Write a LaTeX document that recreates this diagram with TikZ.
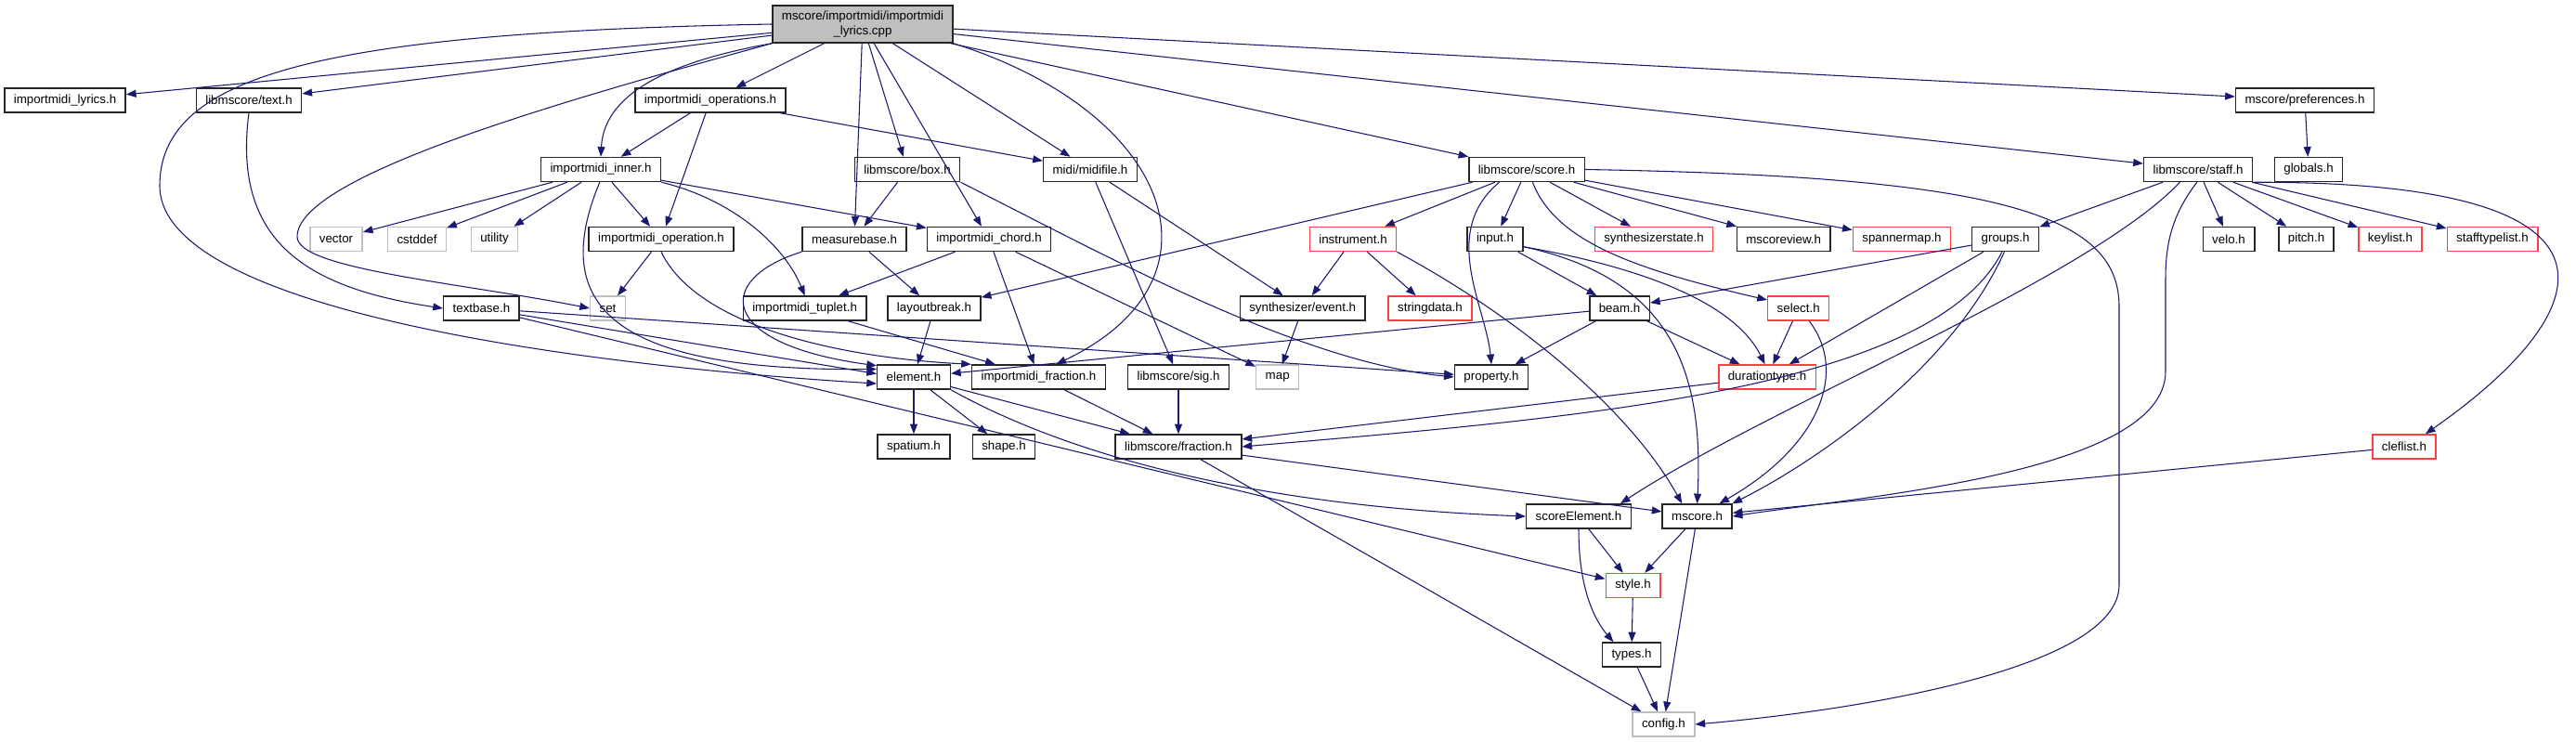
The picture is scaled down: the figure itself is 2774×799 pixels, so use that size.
\documentclass[tikz,border=0pt]{standalone}
\usepackage{fontspec}
\setmainfont{Liberation Sans}
\usetikzlibrary{arrows.meta}
\definecolor{doxblue}{RGB}{25,25,112}
\definecolor{doxred}{RGB}{255,64,64}
\definecolor{doxgray}{RGB}{191,191,191}
\tikzset{
  file/.style={draw=black!85, line width=1.1pt, fill=white,
    font=\fontsize{10pt}{11.5pt}\selectfont, inner xsep=7.5pt, inner ysep=0pt,
    minimum height=19.5pt},
  redfile/.style={file, draw=doxred},
  sysfile/.style={file, draw=doxgray},
  dep/.style={draw=doxblue, line width=0.8pt, -{Triangle[length=8pt,width=6pt]}},
}
\begin{document}
\begin{tikzpicture}[x=0.75pt,y=-0.75pt]
  \useasboundingbox (0,0) rectangle (2774,799);
  % files
  \node[file, fill=doxgray, align=center, minimum height=30pt] (cpp) at (929,26)
    {mscore/importmidi/importmidi\\\_lyrics.cpp};
  \node[file] (lyricsh) at (70,108) {importmidi\_lyrics.h};
  \node[file] (texth) at (268,108) {libmscore/text.h};
  \node[file] (opers) at (765,108) {importmidi\_operations.h};
  \node[file] (prefs) at (2482,108) {mscore/preferences.h};
  \node[file] (inner) at (647,182.5) {importmidi\_inner.h};
  \node[file] (boxh) at (977,182.5) {libmscore/box.h};
  \node[file] (midifile) at (1174,182.5) {midi/midifile.h};
  \node[file] (score) at (1644,182.5) {libmscore/score.h};
  \node[file] (staff) at (2367,182.5) {libmscore/staff.h};
  \node[file] (globals) at (2486,182.5) {globals.h};
  \node[sysfile] (vector) at (362,257.5) {vector};
  \node[sysfile] (cstddef) at (449,257.5) {cstddef};
  \node[sysfile] (utility) at (532.5,257.5) {utility};
  \node[file] (oper) at (712,257.5) {importmidi\_operation.h};
  \node[file] (measurebase) at (920,257.5) {measurebase.h};
  \node[file] (chord) at (1065,257.5) {importmidi\_chord.h};
  \node[redfile] (instrument) at (1457,257.5) {instrument.h};
  \node[file] (input) at (1610,257.5) {input.h};
  \node[redfile] (synthstate) at (1781,257.5) {synthesizerstate.h};
  \node[file] (mscoreview) at (1920.7,257.5) {mscoreview.h};
  \node[redfile] (spannermap) at (2048,257.5) {spannermap.h};
  \node[file] (groups) at (2159.6,257.5) {groups.h};
  \node[file] (velo) at (2400,257.5) {velo.h};
  \node[file] (pitch) at (2483.5,257.5) {pitch.h};
  \node[redfile] (keylist) at (2574,257.5) {keylist.h};
  \node[redfile] (stafftypelist) at (2684,257.5) {stafftypelist.h};
  \node[file] (textbase) at (518.4,332) {textbase.h};
  \node[sysfile] (set) at (654.5,332) {set};
  \node[file] (tuplet) at (866.6,332) {importmidi\_tuplet.h};
  \node[file] (layoutbreak) at (1006,332) {layoutbreak.h};
  \node[file] (event) at (1402.7,332) {synthesizer/event.h};
  \node[redfile] (stringdata) at (1540,332) {stringdata.h};
  \node[file] (beam) at (1744,332) {beam.h};
  \node[redfile] (select) at (1936.7,332) {select.h};
  \node[file] (element) at (984,406) {element.h};
  \node[file] (ifraction) at (1118.5,406) {importmidi\_fraction.h};
  \node[file] (sig) at (1269,406) {libmscore/sig.h};
  \node[sysfile] (map) at (1375.7,406) {map};
  \node[file] (property) at (1606,406) {property.h};
  \node[redfile] (durationtype) at (1903,406) {durationtype.h};
  \node[file] (spatium) at (984,481) {spatium.h};
  \node[file] (shape) at (1081,481) {shape.h};
  \node[file] (fraction) at (1269,481) {libmscore/fraction.h};
  \node[redfile] (cleflist) at (2589,481) {cleflist.h};
  \node[file] (scoreelement) at (1700,556) {scoreElement.h};
  \node[file] (mscoreh) at (1827.6,556) {mscore.h};
  \node[redfile] (style) at (1758.5,630.5) {style.h};
  \node[file] (types) at (1757,705) {types.h};
  \node[sysfile] (config) at (1791.4,780) {config.h};
  % includes of the cpp file
  \draw[dep] (cpp) -- (lyricsh);
  \draw[dep] (cpp) -- (texth);
  \draw[dep] (cpp.west) .. controls (350,35) and (172,80) .. (172,200)
    .. controls (172,330) and (600,392) .. (element.190);
  \draw[dep] (cpp.south west) .. controls (600,110) and (320,190) .. (320,255)
    .. controls (320,290) and (500,305) .. (set.west);
  \draw[dep] (cpp.south west) .. controls (700,70) and (650,110) .. (inner.north);
  \draw[dep] (cpp) -- (opers);
  \draw[dep] (cpp) -- (measurebase);
  \draw[dep] (cpp) -- (boxh);
  \draw[dep] (cpp) -- (chord);
  \draw[dep] (cpp) -- (midifile);
  \draw[dep] (cpp.south east) .. controls (1260,120) and (1330,300) .. (ifraction.36);
  \draw[dep] (cpp) -- (score);
  \draw[dep] (cpp) -- (staff);
  \draw[dep] (cpp) -- (prefs);
  % importmidi
  \draw[dep] (opers) -- (inner);
  \draw[dep] (opers) -- (oper);
  \draw[dep] (opers) -- (midifile);
  \draw[dep] (texth.south) .. controls (250,260) and (330,310) .. (textbase.west);
  \draw[dep] (inner) -- (vector);
  \draw[dep] (inner) -- (cstddef);
  \draw[dep] (inner) -- (utility);
  \draw[dep] (inner) -- (oper);
  \draw[dep] (inner) -- (chord);
  \draw[dep] (inner.south east) .. controls (790,215) and (845,265) .. (tuplet.north);
  \draw[dep] (inner.265) .. controls (590,330) and (660,400) .. (element.168);
  \draw[dep] (oper) -- (set);
  \draw[dep] (oper.south) .. controls (750,350) and (900,385) .. (ifraction.north west);
  \draw[dep] (measurebase.south west) .. controls (770,300) and (770,370) .. (element.163);
  \draw[dep] (measurebase) -- (layoutbreak);
  \draw[dep] (boxh) -- (measurebase);
  \draw[dep] (boxh.south east) .. controls (1200,280) and (1400,390) .. (property.west);
  \draw[dep] (midifile) -- (sig);
  \draw[dep] (midifile) -- (event);
  \draw[dep] (chord) -- (tuplet);
  \draw[dep] (chord) -- (ifraction);
  \draw[dep] (chord) -- (map);
  \draw[dep] (textbase) -- (element.175);
  \draw[dep] (textbase) -- (property);
  \draw[dep] (textbase) -- (style);
  \draw[dep] (layoutbreak) -- (element);
  \draw[dep] (tuplet) -- (ifraction);
  \draw[dep] (event) -- (map);
  % libmscore
  \draw[dep] (score) -- (layoutbreak);
  \draw[dep] (score) -- (instrument);
  \draw[dep] (score) -- (input);
  \draw[dep] (score) -- (synthstate);
  \draw[dep] (score) -- (mscoreview);
  \draw[dep] (score) -- (spannermap);
  \draw[dep] (score.205) .. controls (1550,250) and (1600,330) .. (property.north);
  \draw[dep] (score.295) .. controls (1675,260) and (1760,290) .. (select.165);
  \draw[dep] (score.east) .. controls (2150,190) and (2282,230) .. (2282,330)
    -- (2282,630) .. controls (2282,720) and (2000,765) .. (config.east);
  \draw[dep] (instrument) -- (event);
  \draw[dep] (instrument) -- (stringdata);
  \draw[dep] (instrument.south east) .. controls (1650,350) and (1760,450) .. (mscoreh.140);
  \draw[dep] (input) -- (beam);
  \draw[dep] (input.345) .. controls (1780,290) and (1870,330) .. (durationtype.100);
  \draw[dep] (input.345) .. controls (1800,300) and (1835,400) .. (mscoreh.north);
  \draw[dep] (beam) -- (element);
  \draw[dep] (beam) -- (property);
  \draw[dep] (beam) -- (durationtype);
  \draw[dep] (select) -- (durationtype);
  \draw[dep] (select.310) .. controls (1990,400) and (1960,480) .. (mscoreh.30);
  \draw[dep] (groups) -- (beam);
  \draw[dep] (groups) -- (durationtype);
  \draw[dep] (groups.255) .. controls (2080,420) and (1700,450) .. (fraction.east);
  \draw[dep] (groups.265) .. controls (2100,400) and (1950,500) .. (mscoreh.20);
  \draw[dep] (prefs) -- (globals);
  \draw[dep] (staff) -- (groups);
  \draw[dep] (staff) -- (velo);
  \draw[dep] (staff) -- (pitch);
  \draw[dep] (staff) -- (keylist);
  \draw[dep] (staff) -- (stafftypelist);
  \draw[dep] (staff.215) .. controls (2250,300) and (1900,440) .. (scoreelement.17);
  \draw[dep] (staff.265) .. controls (2340,230) and (2332,260) .. (2332,300)
    -- (2332,400) .. controls (2332,510) and (2000,535) .. (mscoreh.east);
  \draw[dep] (staff.south east) .. controls (2880,195) and (2780,350) .. (cleflist.31);
  \draw[dep] (cleflist) -- (mscoreh);
  \draw[dep] (durationtype) -- (fraction);
  \draw[dep] (element) -- (spatium);
  \draw[dep] (element) -- (shape);
  \draw[dep] (element) -- (fraction);
  \draw[dep] (element.south east) .. controls (1150,490) and (1350,545) .. (scoreelement.west);
  \draw[dep] (ifraction) -- (fraction);
  \draw[dep] (sig) -- (fraction);
  \draw[dep] (fraction) -- (mscoreh);
  \draw[dep] (fraction) -- (config);
  \draw[dep] (scoreelement) -- (style);
  \draw[dep] (scoreelement.south) .. controls (1700,630) and (1715,665) .. (types.145);
  \draw[dep] (mscoreh) -- (style);
  \draw[dep] (mscoreh) -- (config);
  \draw[dep] (style) -- (types);
  \draw[dep] (types) -- (config);
\end{tikzpicture}
\end{document}
